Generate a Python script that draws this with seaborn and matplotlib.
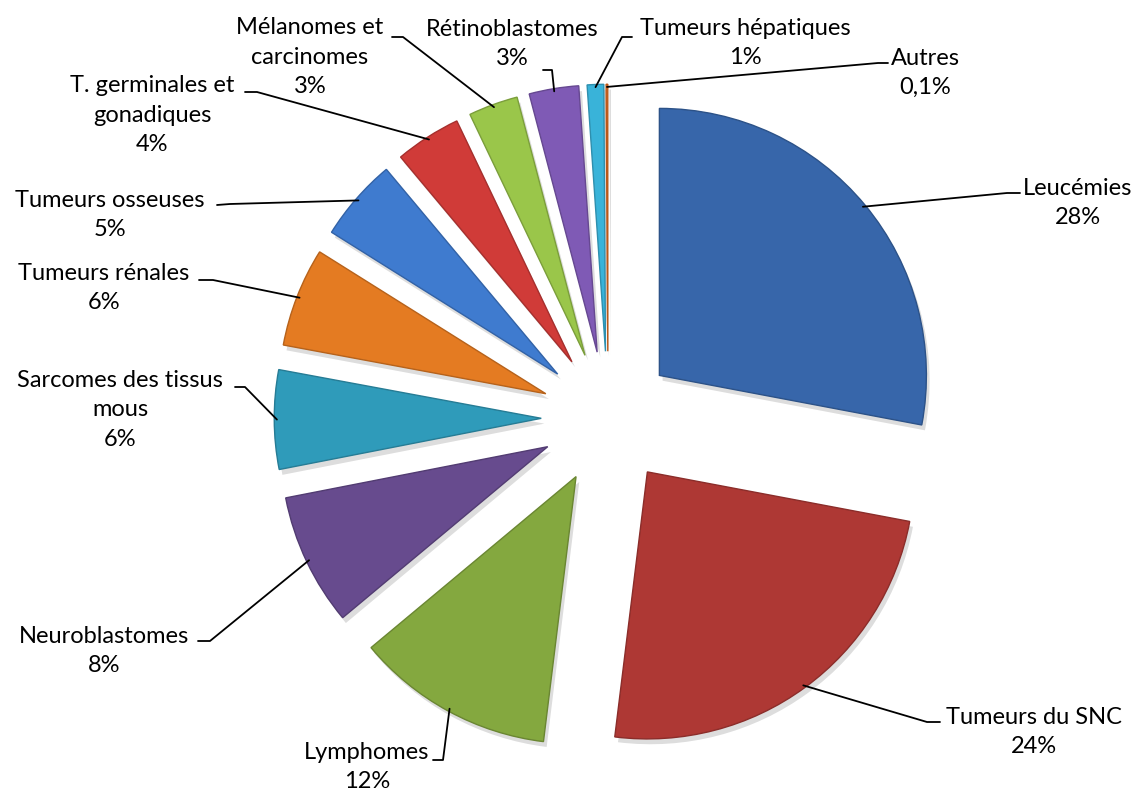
import numpy as np
import seaborn as sns
import matplotlib.pyplot as plt

categories = ["Leucémies", "Tumeurs du SNC", "Lymphomes", "Neuroblastomes",
              "Sarcomes des tissus\nmous", "Tumeurs rénales", "Tumeurs osseuses",
              "T. germinales et\ngonadiques", "Mélanomes et\ncarcinomes",
              "Rétinoblastomes", "Tumeurs hépatiques", "Autres"]
values = [28, 24, 12, 8, 6, 6, 5, 4, 3, 3, 1, 0.1]
pct_labels = ["28%", "24%", "12%", "8%", "6%", "6%", "5%", "4%", "3%", "3%", "1%", "0,1%"]

colors = ["#3766AA", "#AE3834", "#84A83F", "#674B8E", "#2F9BBA", "#E47B22",
          "#3F7BCF", "#D03B38", "#9AC64A", "#7F5AB5", "#39B3D9", "#E86E1F"]

# layout (pixels): text centre, leader elbow, leader end
text_pos = [(1078, 203), (1034, 732), (367, 767), (104, 651), (120, 410), (104, 288),
            (110, 215), (152, 115), (310, 57), (512, 44), (745, 43), (925, 73)]
elbow = [(1007, 193), (927, 722), (443, 760), (210, 641), (245, 387), (213, 280),
         (230, 204), (257, 92), (403, 37), (552, 70), (622, 37), (878, 63)]
end = [(1020, 193), (940, 722), (433, 760), (198, 641), (235, 387), (199, 280),
       (217, 205), (245, 92), (392, 37), (543, 70), (632, 37), (888, 63)]

W, H = 1145, 798
CX, CY, R = 608, 418, 267


def px(p):
    return ((p[0] - CX) / R, (CY - p[1]) / R)


sns.set_style("white")
plt.rcParams['font.family'] = ['Lato', 'DejaVu Sans']

fig = plt.figure(figsize=(W / 100, H / 100), dpi=100)
ax = fig.add_axes([0, 0, 1, 1])

explode = [0.25] * len(values)
edge = [tuple(c * 0.8 for c in plt.matplotlib.colors.to_rgb(col)) for col in colors]

# soft shadow
ax.pie(values, explode=explode, startangle=90, counterclock=False,
       colors=["#00000022"] * len(values), center=(0.012, -0.02), radius=1,
       wedgeprops=dict(linewidth=0))
wedges, _ = ax.pie(values, explode=explode, startangle=90, counterclock=False,
                   colors=colors, radius=1,
                   wedgeprops=dict(linewidth=1.0))
for w, ec in zip(wedges, edge):
    w.set_edgecolor(ec)

for i, w in enumerate(wedges):
    ang = np.deg2rad((w.theta1 + w.theta2) / 2)
    cx, cy = w.center
    sx, sy = cx + 0.99 * np.cos(ang), cy + 0.99 * np.sin(ang)
    ex, ey = px(elbow[i])
    fx, fy = px(end[i])
    ax.plot([sx, ex, fx], [sy, ey, fy], color="black", lw=1.3, zorder=3)
    tx, ty = px(text_pos[i])
    ax.text(tx, ty, categories[i] + "\n" + pct_labels[i], ha="center", va="center",
            fontsize=17, linespacing=1.5, color="black")

ax.set_xlim(-CX / R, (W - CX) / R)
ax.set_ylim((CY - H) / R, CY / R)
ax.set_aspect("auto")
ax.axis("off")

fig.savefig("out.png", dpi=100)
